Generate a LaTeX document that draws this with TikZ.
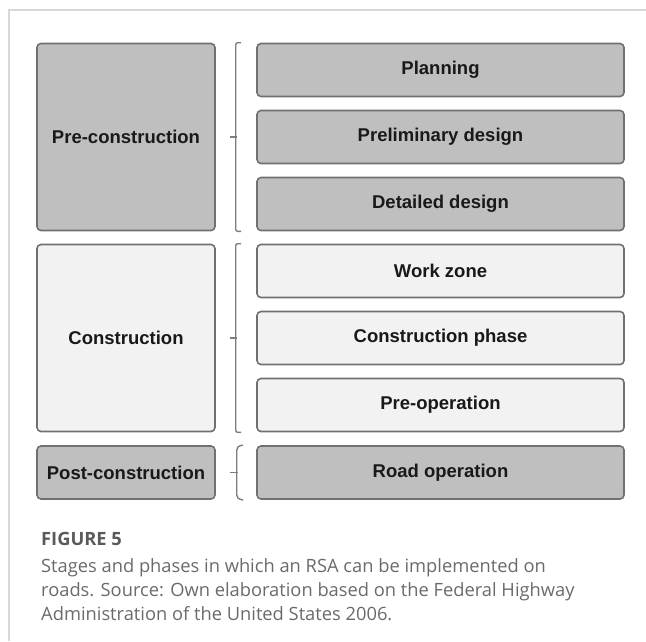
\documentclass[tikz,border=0pt]{standalone}
\usepackage{fontspec}
\setmainfont{Liberation Sans}
\newfontfamily\capfont{Open Sans}
\usetikzlibrary{calc}

\definecolor{darkfill}{HTML}{BFBFBF}
\definecolor{lightfill}{HTML}{F2F2F2}
\definecolor{edgegray}{HTML}{707070}
\definecolor{framegray}{HTML}{D8D8D8}
\definecolor{captext}{HTML}{6A6A6A}

\begin{document}
\begin{tikzpicture}[x=1pt,y=1pt,node distance=67pt,
	box/.style={draw=edgegray,line width=1.6pt,rounded corners=4pt,inner sep=0pt,
		font=\fontsize{18.5}{22}\selectfont\bfseries,text=black!90},
	phase node/.style={box,minimum width=367pt,minimum height=53pt},
	stage node/.style={box,minimum width=178pt},
	dark/.style={fill=darkfill},
	light/.style={fill=lightfill},
	bracket/.style={draw=edgegray!90,line width=1.4pt,rounded corners=2pt}]
	
	\useasboundingbox (0,0) rectangle (646,-641);
	\draw[framegray,line width=1.5pt] (9,-641) -- (9,-10) -- (646,-10);
	
	% phases
	\node[phase node,dark] (plan) at (440.5,-70) {Planning};
	\node[phase node,dark] (prelim) [below of=plan] {Preliminary design};
	\node[phase node,dark] (det) [below of=prelim] {Detailed design};
	\node[phase node,light] (work) [below of=det] {Work zone};
	\node[phase node,light] (cphase) [below of=work] {Construction phase};
	\node[phase node,light] (preop) [below of=cphase] {Pre-operation};
	\node[phase node,dark] (road) at (440.5,-472.5) {Road operation};
	
	% stages
	\node[stage node,dark,minimum height=187pt] (pre) [left of=prelim,node distance=314.5pt] {Pre-construction};
	\node[stage node,light,minimum height=187pt] (cons) [left of=cphase,node distance=314.5pt] {Construction};
	\node[stage node,dark,minimum height=53pt] (post) [left of=road,node distance=314.5pt] {Post-construction};
	
	% brackets
	\draw[bracket] ($(plan.north west)+(-15,0)$) -- ++(-5.5,0) |- ($(det.south west)+(-15,0)$);
	\draw[bracket] ($(pre.east)+(14,0)$) -- ++(7.5,0);
	\draw[bracket] ($(work.north west)+(-15,0)$) -- ++(-5.5,0) |- ($(preop.south west)+(-15,0)$);
	\draw[bracket] ($(cons.east)+(14,0)$) -- ++(7.5,0);
	\draw[bracket,rounded corners=5pt] ($(road.north west)+(-13,0)$) -- ++(-6.5,0) |- ($(road.south west)+(-13,0)$);
	\draw[bracket] ($(post.east)+(14,0)$) -- ++(8.5,0);
	
	% caption
	\node[anchor=north west,inner sep=0pt,font=\capfont\bfseries\fontsize{18.3}{24}\selectfont,text=captext!85!black] (figlabel) at (41,-532) {FIGURE 5};
	\node[anchor=north west,inner sep=0pt,align=left,font=\capfont\fontsize{18.3}{24}\selectfont,text=captext] (caption) at (41,-558) {Stages and phases in which an RSA can be implemented on\\roads. Source: Own elaboration based on the Federal Highway\\Administration of the United States 2006.};
\end{tikzpicture}
\end{document}
